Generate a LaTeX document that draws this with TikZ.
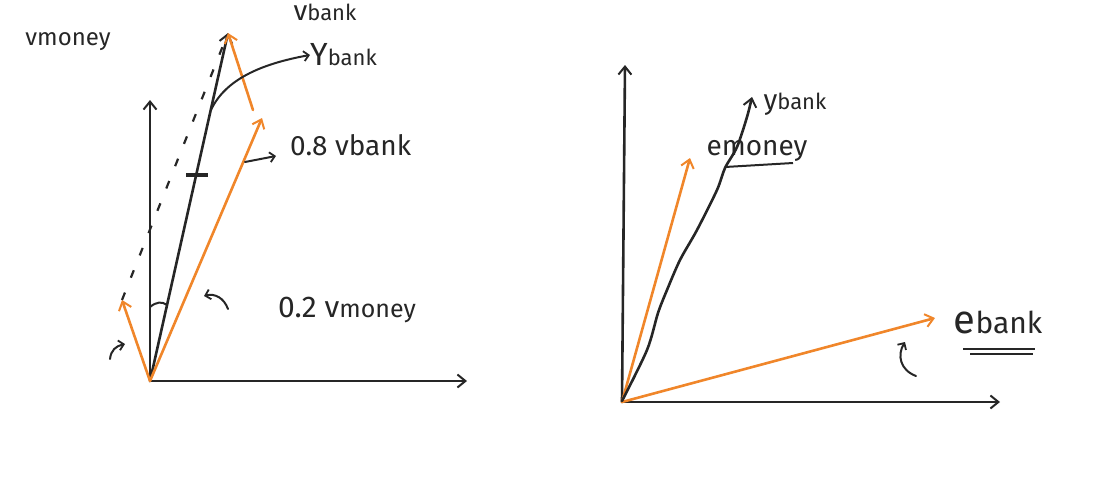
\documentclass[tikz,border=0pt]{standalone}
\usepackage{fontspec}
\setmainfont{Fira Sans}
\usepackage{tikz}
\usetikzlibrary{positioning, calc, arrows.meta}
\definecolor{penorange}{HTML}{F0862A}
\tikzset{pen/.style = {line width=2.6pt, line cap=round, -{Straight Barb[length=8pt,width=13pt,line width=2pt]}},
         axis/.style = {pen, draw=black!85},
         vec/.style = {pen, draw=penorange},
         hint/.style = {line width=2pt, line cap=round, draw=black!85, -{Straight Barb[length=5pt,width=10pt,line width=1.8pt]}},
         lbl/.style = {font=\fontsize{28}{32}\selectfont, inner sep=0pt, text=black!85}}
\newcommand{\smalltail}[1]{{\fontsize{22}{24}\selectfont #1}}

\begin{document}
\begin{tikzpicture}[x=1pt, y=-1pt]
    \useasboundingbox (0,0) rectangle (1109,485);

    \begin{scope}
        % left panel
        \coordinate (O)   at (150,381);
        \coordinate (Yup) at (150,100);
        \coordinate (Xr)  at (467,381);
        \coordinate (V)   at (228,33);
        \coordinate (Vm)  at (122,300);
        \coordinate (Vb)  at (262,118);
        \coordinate (Vs)  at (253,110);

        \draw [axis] (O) -- (Yup);
        \draw [axis] (O) -- (Xr);
        \draw [axis] (O) -- (V);
        \draw [vec] (O) -- (Vm);
        \draw [vec] (O) -- (Vb);
        \draw [vec] (Vs) -- (V);
        \draw [line width=2.2pt, draw=black!85, dash pattern=on 8pt off 16pt] (Vm) -- (V);

        \draw [line width=4pt, draw=black!85] (186,175) -- (208,175);
        \draw [line width=2pt, draw=black!85] (150,307) .. controls (156,302) and (162,301) .. (167,305);

        \node [lbl, font=\fontsize{24}{28}\selectfont] (vmoney) at (68,42) {vmoney};
        \node [lbl] (vbank) at (325,12) {v\smalltail{bank}};
        \node [lbl, anchor=west, font=\fontsize{32}{36}\selectfont] (ybank) at (310,55) {Y\smalltail{bank}};
        \node [lbl, anchor=west] (vb08) at (290,145) {0.8 vbank};
        \node [lbl, anchor=west, font=\fontsize{30}{34}\selectfont] (vm02) at (278,310) {0.2 v{\fontsize{25}{28}\selectfont money}};

        \coordinate (Yfrom) at (211,110);
        \draw [hint] (Yfrom) .. controls (225,80) and (260,64) .. (ybank.west);
        \coordinate (Bfrom) at (245,162);
        \draw [hint] (Bfrom) -- (276,156);
        \coordinate (Mfrom) at (228,309);
        \draw [hint] (Mfrom) .. controls (224,298) and (215,293) .. (204,296);
        \coordinate (Sfrom) at (110,359);
        \draw [hint] (Sfrom) .. controls (111,350) and (116,346) .. (125,344);
    \end{scope}

    \begin{scope}
        % right panel
        \coordinate (P)   at (622,402);
        \coordinate (Pup) at (625,65);
        \coordinate (Pr)  at (1000,402);
        \coordinate (Em)  at (690,158);
        \coordinate (Eb)  at (935,318);

        \draw [axis] (P) -- (Pup);
        \draw [axis] (P) -- (Pr);
        \draw [vec] (P) -- (Em);
        \draw [vec] (P) -- (Eb);
        \draw [axis] plot [smooth, tension=0.5] coordinates {(622,401) (647,350) (658,313) (667,290) (680,260) (697,230) (717,190) (725,168) (737,147) (747,117) (752,97)};

        \node [lbl] (ybank2) at (795,104) {y\smalltail{bank}};
        \node [lbl] (emoney) at (757,151) {emoney};
        \node [lbl, font=\fontsize{40}{44}\selectfont] (ebank) at (998,322) {e{\fontsize{30}{32}\selectfont bank}};

        \draw [line width=2pt, draw=black!85] (725,167) -- (793,163);
        \draw [line width=2pt, draw=black!85] (963,349) -- (1035,349);
        \draw [line width=2pt, draw=black!85] (970,354) -- (1033,354);

        \coordinate (Efrom) at (916,376);
        \draw [hint] (Efrom) .. controls (900,370) and (897,355) .. (905,342);
    \end{scope}
\end{tikzpicture}
\end{document}
